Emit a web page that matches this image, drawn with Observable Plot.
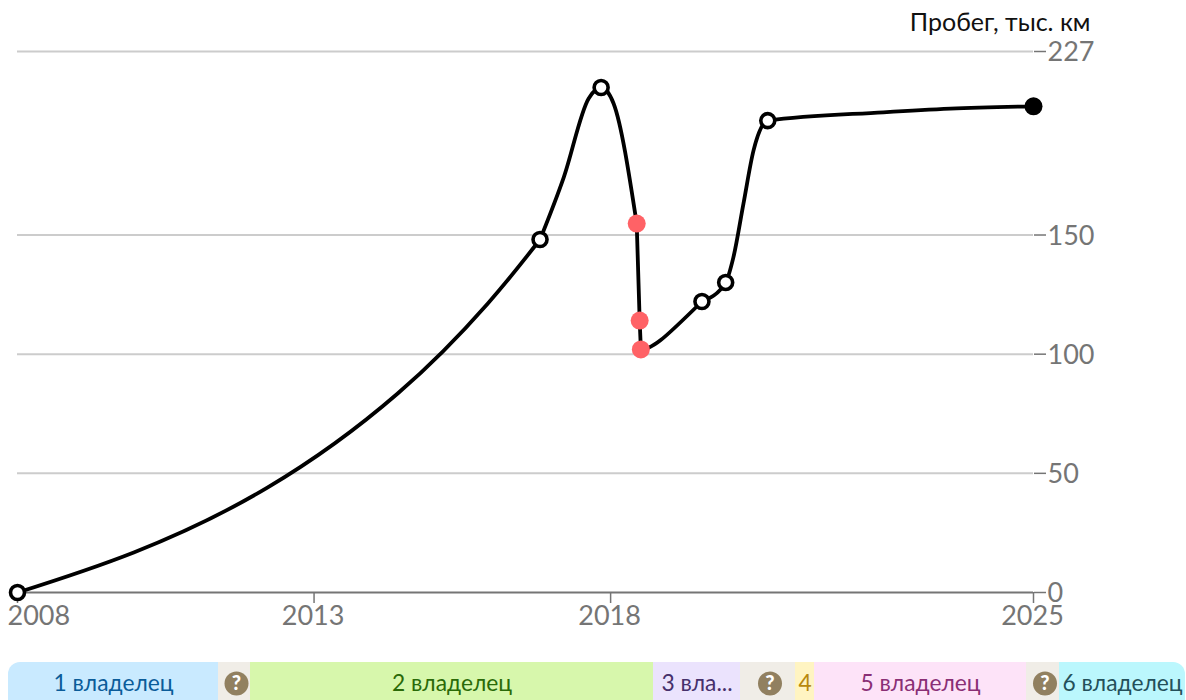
<!DOCTYPE html>
<html lang="ru">
<head>
<meta charset="utf-8">
<script src="https://cdn.jsdelivr.net/npm/d3@7"></script>
<script src="https://cdn.jsdelivr.net/npm/@observablehq/plot@0.6"></script>
<style>
html,body{margin:0;padding:0;background:#fff;width:1186px;height:700px;overflow:hidden;font-family:Lato,sans-serif}
#chart{position:absolute;left:0;top:0}
#band{position:absolute;left:8px;top:662px;width:1177px;height:38px;overflow:hidden;border-radius:12px 12px 0 0}
svg{display:block;overflow:visible}
</style>
</head>
<body>
<div id="chart"></div>
<div id="band"></div>
<script>
const earlyYears = [2008,2009.96,2012.22,2014.41,2015.93,2016.81];
const earlyKm = [0,16.8,44.1,83.5,121.3,148.1];
const peakYears = [2016.81,2017.21,2017.63,2017.84,2018.05,2018.44];
const peakKm = [148.1,174.2,207.3,211.9,205.2,154.8];
const dropYears = [2018.44,2018.49,2018.51];
const dropKm = [154.8,114.1,102];
const riseYears = [2018.51,2018.84,2019.54];
const riseKm = [102,105.8,122.1];
const lateYears = [2019.54,2019.94,2020.07,2020.24,2020.41,2020.65,2022.60,2023.73,2025.13];
const lateKm = [122.1,130.1,140.6,163.2,185.5,198,201.5,203,204];

const openYears = [2008,2016.81,2017.84,2019.54,2019.94,2020.65];
const openKm = [0,148.1,211.9,122.1,130.1,198];
const redYears = [2018.44,2018.49,2018.51];
const redKm = [154.8,114.1,102];
const lastYear = [2025.13];
const lastKm = [204];

const yTicks = [0,50,100,150,227];
const gridTicks = [50,100,150,227];
const xTicks = [2008,2013,2018,2025.13];
const xLabels = ["2008","2013","2018","2025"];

const ownerLabels = ["1 владелец","?","2 владелец","3 вла...","?","4","5 владелец","?","6 владелец"];
const ownerShares = [210,32,403,87,55,19,212,33,126];
const ownerFills = ["#c9eaff","#f0ede7","#d7f7ac","#ebe3fd","#f0ede7","#fff4c2","#fde3f8","#f0ede7","#bbf7fd"];
const ownerInks = ["#0b5c99","#ffffff","#2a6a08","#46306b","#ffffff","#b8890e","#8a2f75","#ffffff","#24505a"];

const zip = (xs,ys)=>xs.map((x,i)=>({x,y:ys[i]}));
const xt = xTicks.map((x,i)=>({x,t:xLabels[i]}));
const gray = "#757575";
const seg = (xs,ys,curve)=>Plot.line(zip(xs,ys),{x:"x",y:"y",curve,stroke:"#000",strokeWidth:3.8});

const chart = Plot.plot({
  width:1186, height:640,
  marginLeft:17, marginRight:153, marginTop:51, marginBottom:48,
  style:{fontFamily:"Lato, sans-serif",background:"transparent",overflow:"visible"},
  x:{domain:[2008,2025.13],label:null},
  y:{domain:[0,227],label:null},
  marks:[
    Plot.ruleY(gridTicks,{stroke:"#cccccc",strokeWidth:2}),
    Plot.ruleY([0],{stroke:gray,strokeWidth:2}),
    Plot.axisY({anchor:"right",ticks:yTicks,tickSize:12,text:null,stroke:gray,strokeOpacity:1,strokeWidth:1.5,label:null}),
    Plot.axisX({ticks:xTicks,tickSize:11,text:null,stroke:gray,strokeOpacity:1,strokeWidth:1.5,label:null}),
    Plot.text(yTicks,{y:d=>d,text:d=>String(d),frameAnchor:"right",textAnchor:"start",dx:14,dy:1,fontSize:27,fill:gray}),
    Plot.text(xt.slice(0,1),{x:"x",text:"t",frameAnchor:"bottom",textAnchor:"start",dx:-10,dy:32,fontSize:27,fill:gray}),
    Plot.text(xt.slice(1),{x:"x",text:"t",frameAnchor:"bottom",dx:-1,dy:32,fontSize:27,fill:gray}),
    Plot.text(["Пробег, тыс. км"],{frameAnchor:"top-right",textAnchor:"end",dx:57,dy:-38,fontSize:25,fill:"#111111"}),
    seg(earlyYears,earlyKm,"natural"),
    seg(peakYears,peakKm,"monotone-x"),
    seg(dropYears,dropKm,"linear"),
    seg(riseYears,riseKm,"natural"),
    seg(lateYears,lateKm,"monotone-x"),
    Plot.dot(zip(openYears,openKm),{x:"x",y:"y",r:7,fill:"#fff",stroke:"#000",strokeWidth:3.6}),
    Plot.dot(zip(redYears,redKm),{x:"x",y:"y",r:9,fill:"#ff6266",stroke:"none"}),
    Plot.dot(zip(lastYear,lastKm),{x:"x",y:"y",r:9,fill:"#000",stroke:"none"})
  ]
});
document.getElementById("chart").append(chart);

const owners = ownerLabels.map((label,i)=>({
  label, w:ownerShares[i], fill:ownerFills[i], ink:ownerInks[i], q:label==="?"
}));
const band = Plot.plot({
  width:1177, height:42,
  margin:0,
  style:{fontFamily:"Lato, sans-serif",background:"transparent"},
  x:{axis:null,domain:[0,d3.sum(ownerShares)],range:[0,1177]},
  y:{axis:null},
  marks:[
    Plot.barX(owners,Plot.stackX({x:"w",fill:d=>d.fill,order:null})),
    Plot.dot(owners,Plot.stackX({x:"w",order:null,frameAnchor:"middle",dx:2,r:12,fill:d=>d.q?"#918060":"none",stroke:"none"})),
    Plot.text(owners,Plot.stackX({x:"w",order:null,frameAnchor:"middle",text:d=>d.q?"":d.label,fill:d=>d.ink,fontSize:22.8})),
    Plot.text(owners,Plot.stackX({x:"w",order:null,frameAnchor:"middle",dx:2,text:d=>d.q?"?":"",fill:"#fff",fontSize:20,fontWeight:900}))
  ]
});
document.getElementById("band").append(band);
</script>
</body>
</html>
